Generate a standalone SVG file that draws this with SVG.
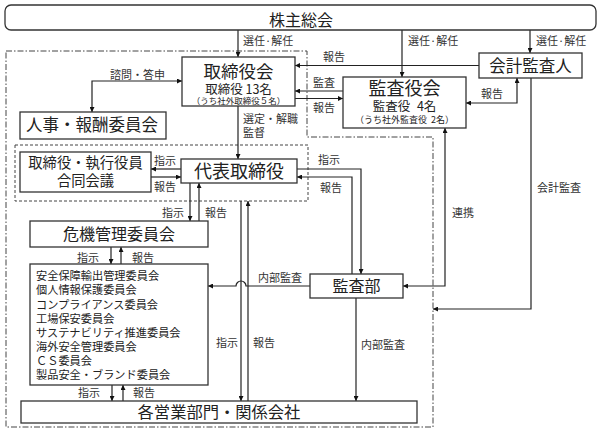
<svg xmlns="http://www.w3.org/2000/svg" width="600" height="432" viewBox="0 0 600 432">
<defs>
<style>
.box{fill:#fff;stroke:#333;stroke-width:1.3}
.ln{fill:none;stroke:#222;stroke-width:1.2}
.t{font-family:"Noto Sans CJK JP","Noto Sans CJK SC",sans-serif;fill:#222;text-anchor:middle}
.l{font-family:"Noto Sans CJK JP","Noto Sans CJK SC",sans-serif;fill:#333;font-size:11px}
.li{font-family:"Noto Sans CJK JP","Noto Sans CJK SC",sans-serif;fill:#222;font-size:11.2px}
.fr{fill:none;stroke:#444;stroke-width:1}
</style>
<marker id="ah" viewBox="0 0 10 10" refX="10" refY="5" markerWidth="6" markerHeight="5" markerUnits="userSpaceOnUse" orient="auto-start-reverse">
<path d="M0,0 L10,5 L0,10 z" fill="#111"/>
</marker>
</defs>
<rect width="600" height="432" fill="#fff"/>

<g id="frames">
<path class="fr" d="M6,51 H307 V137 H433 V427 H6 Z" stroke-dasharray="6 2 1.5 2"/>
<rect class="fr" x="15" y="145" width="293" height="56" stroke-dasharray="3 2"/>
</g>

<g id="connectors">
<path class="ln" d="M238,30 V57" marker-end="url(#ah)"/>
<path class="ln" d="M402,30 V77" marker-end="url(#ah)"/>
<path class="ln" d="M530,30 V53" marker-end="url(#ah)"/>
<path class="ln" d="M479,65.5 H295" marker-end="url(#ah)"/>
<path class="ln" d="M343,91 H295" marker-end="url(#ah)"/>
<path class="ln" d="M295,98.5 H343" marker-end="url(#ah)"/>
<path class="ln" d="M517,78 V103 H466" marker-start="url(#ah)" marker-end="url(#ah)"/>
<path class="ln" d="M182,81 H92 V112" marker-start="url(#ah)" marker-end="url(#ah)"/>
<path class="ln" d="M238,106 V159" marker-end="url(#ah)"/>
<path class="ln" d="M181,169 H151" marker-end="url(#ah)"/>
<path class="ln" d="M151,177 H181" marker-end="url(#ah)"/>
<path class="ln" d="M297,169 H361 V274" marker-end="url(#ah)"/>
<path class="ln" d="M352,274 V177 H297" marker-end="url(#ah)"/>
<path class="ln" d="M190,183 V221" marker-end="url(#ah)"/>
<path class="ln" d="M199,221 V183" marker-end="url(#ah)"/>
<path class="ln" d="M111,247 V264" marker-end="url(#ah)"/>
<path class="ln" d="M121,264 V247" marker-end="url(#ah)"/>
<path class="ln" d="M112,385 V401" marker-end="url(#ah)"/>
<path class="ln" d="M123,401 V385" marker-end="url(#ah)"/>
<path class="ln" d="M241,201 V401" marker-end="url(#ah)"/>
<path class="ln" d="M248,401 V201" marker-end="url(#ah)"/>
<path class="ln" d="M310,286 H246 A5,5 0 0 0 236,286 H208" marker-end="url(#ah)"/>
<path class="ln" d="M356,298 V401" marker-end="url(#ah)"/>
<path class="ln" d="M445,128 V286 H403" marker-start="url(#ah)" marker-end="url(#ah)"/>
<path class="ln" d="M531,78 V309 H433" marker-end="url(#ah)"/>
</g>

<g id="labels">
<text class="l" x="243" y="45">選任·解任</text>
<text class="l" x="408" y="45">選任·解任</text>
<text class="l" x="536" y="45">選任·解任</text>
<text class="l" x="323" y="61">報告</text>
<text class="l" x="313" y="86.5">監査</text>
<text class="l" x="313" y="111.5">報告</text>
<text class="l" x="481" y="97.5">報告</text>
<text class="l" x="110" y="79">諮問・答申</text>
<text class="l" x="243" y="123">選定・解職</text>
<text class="l" x="243" y="137">監督</text>
<text class="l" x="154" y="165">指示</text>
<text class="l" x="154" y="191">報告</text>
<text class="l" x="318" y="163.5">指示</text>
<text class="l" x="320" y="192">報告</text>
<text class="l" x="162" y="216.5">指示</text>
<text class="l" x="205" y="216.5">報告</text>
<text class="l" x="77" y="261.5">指示</text>
<text class="l" x="132" y="261.5">報告</text>
<text class="l" x="258" y="282">内部監査</text>
<text class="l" x="452" y="217">連携</text>
<text class="l" x="537" y="192">会計監査</text>
<text class="l" x="216" y="347">指示</text>
<text class="l" x="253" y="347">報告</text>
<text class="l" x="361" y="349">内部監査</text>
<text class="l" x="78" y="397">指示</text>
<text class="l" x="133" y="397">報告</text>
</g>

<g id="n-shareholders">
<rect class="box" x="5" y="5" width="591" height="25" rx="6"/>
<text class="t" x="301" y="25.5" font-size="16">株主総会</text>
</g>
<g id="n-board">
<rect class="box" x="182" y="57" width="113" height="49"/>
<text class="t" x="238.5" y="77.5" font-size="17.5">取締役会</text>
<text class="t" x="238.5" y="94" font-size="12.5">取締役 13名</text>
<text class="t" x="238.5" y="103.5" font-size="8.5">（うち社外取締役５名）</text>
</g>
<g id="n-hr">
<rect class="box" x="20" y="112" width="146" height="27"/>
<text class="t" x="92" y="131" font-size="16.5">人事・報酬委員会</text>
</g>
<g id="n-auditboard">
<rect class="box" x="343" y="77" width="123" height="51"/>
<text class="t" x="404.5" y="94.5" font-size="18">監査役会</text>
<text class="t" x="404.5" y="111.3" font-size="12.5" word-spacing="4">監査役 4名</text>
<text class="t" x="404.5" y="123.3" font-size="9" word-spacing="2">（うち社外監査役 2名）</text>
</g>
<g id="n-accountant">
<rect class="box" x="479" y="53" width="103" height="25"/>
<text class="t" x="530.5" y="71.6" font-size="16.5">会計監査人</text>
</g>
<g id="n-ceo">
<rect class="box" x="181" y="159" width="116" height="24"/>
<text class="t" x="239" y="177.6" font-size="18">代表取締役</text>
</g>
<g id="n-joint">
<rect class="box" x="20" y="152" width="131" height="40"/>
<text class="t" x="85.5" y="167.6" font-size="14.3">取締役・執行役員</text>
<text class="t" x="85.5" y="186" font-size="14.3">合同会議</text>
</g>
<g id="n-risk">
<rect class="box" x="30" y="221" width="178" height="26"/>
<text class="t" x="119" y="240.4" font-size="16">危機管理委員会</text>
</g>
<g id="n-committees">
<rect class="box" x="30" y="264" width="178" height="121"/>
<text class="li" x="36" y="280.3">安全保障輸出管理委員会</text>
<text class="li" x="36" y="294.4">個人情報保護委員会</text>
<text class="li" x="36" y="308.5">コンプライアンス委員会</text>
<text class="li" x="36" y="322.6">工場保安委員会</text>
<text class="li" x="36" y="336.7">サステナビリティ推進委員会</text>
<text class="li" x="36" y="350.8">海外安全管理委員会</text>
<text class="li" x="36" y="364.9">ＣＳ委員会</text>
<text class="li" x="36" y="379">製品安全・ブランド委員会</text>
</g>
<g id="n-internalaudit">
<rect class="box" x="310" y="274" width="93" height="24"/>
<text class="t" x="356.5" y="292" font-size="16">監査部</text>
</g>
<g id="n-divisions">
<rect class="box" x="21" y="401" width="396" height="22"/>
<text class="t" x="219" y="418" font-size="16.3">各営業部門・関係会社</text>
</g>
</svg>
